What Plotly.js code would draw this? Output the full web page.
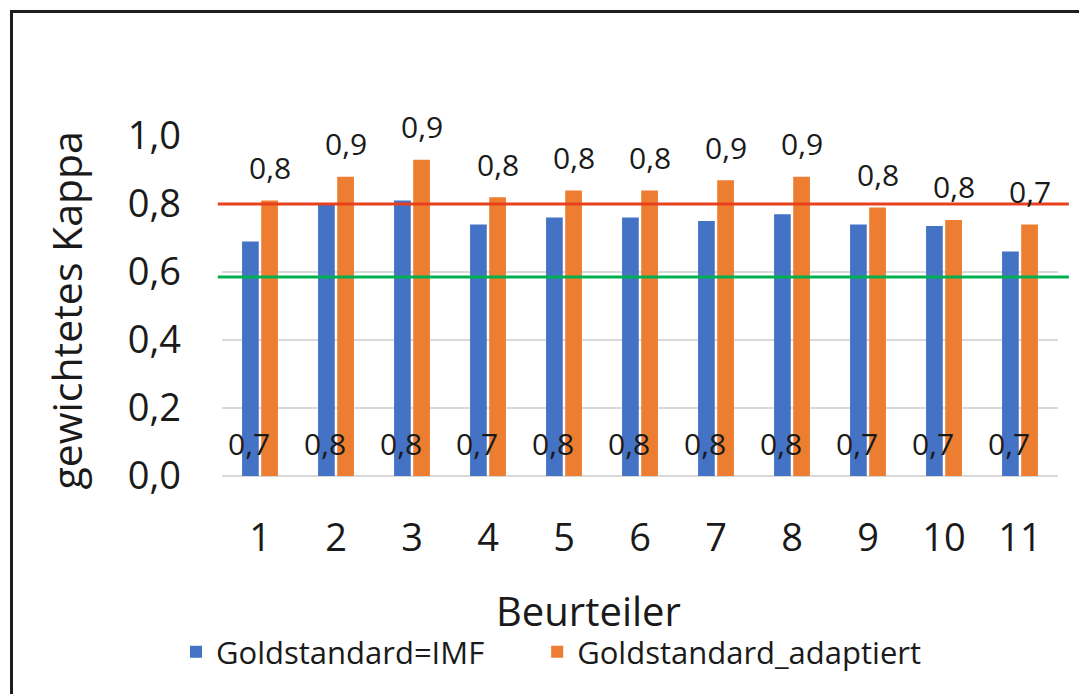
<!DOCTYPE html>
<html>
<head>
<meta charset="utf-8">
<script src="https://cdn.plot.ly/plotly-3.0.1.min.js"></script>
<style>
  html, body { margin: 0; padding: 0; background: #ffffff; }
  #wrap { position: relative; width: 1079px; height: 694px; overflow: hidden; }
  #chart { position: absolute; left: 0; top: 0; width: 1079px; height: 694px; }
  #frame { position: absolute; left: 10px; top: 10px; width: 1100px; height: 720px;
           border-left: 3px solid #1e1e1e; border-top: 3px solid #1e1e1e; pointer-events: none; }
</style>
</head>
<body>
<div id="wrap">
  <div id="chart"></div>
  <div id="frame"></div>
</div>
<script>
// ---- data ----
const categories = ["1", "2", "3", "4", "5", "6", "7", "8", "9", "10", "11"];
const imfValues     = [0.69, 0.80, 0.81, 0.74, 0.76, 0.76, 0.75, 0.77, 0.74, 0.735, 0.66];
const adaptedValues = [0.81, 0.88, 0.93, 0.82, 0.84, 0.84, 0.87, 0.88, 0.79, 0.753, 0.74];
const seriesNames = ["Goldstandard=IMF", "Goldstandard_adaptiert"];
const yTickValues = [0, 0.2, 0.4, 0.6, 0.8, 1.0];
const yTickLabels = ["0,0", "0,2", "0,4", "0,6", "0,8", "1,0"];
const thresholdHigh = 0.8;
const thresholdLow = 0.585;
const yTitle = "gewichtetes Kappa";
const xTitle = "Beurteiler";

const FONT = "Open Sans, Lato, sans-serif";
const BLUE = "#4472C4", ORANGE = "#ED7D31";

function fmt(v) { return v.toFixed(1).replace(".", ","); }

const traces = [
  { type: "bar", name: seriesNames[0], x: categories, y: imfValues,
    marker: { color: BLUE }, hoverinfo: "skip", legend: "legend" },
  { type: "bar", name: seriesNames[1], x: categories, y: adaptedValues,
    marker: { color: ORANGE }, hoverinfo: "skip", legend: "legend2" }
];

const annotations = [];
categories.forEach((c, i) => {
  // on a category axis a numeric x is the category index
  annotations.push({ x: i, y: 0, xref: "x", yref: "y", text: fmt(imfValues[i]),
    showarrow: false, xshift: -11, yshift: 33, yanchor: "middle",
    font: { family: FONT, size: 30, color: "#1a1a1a" } });
  annotations.push({ x: i, y: adaptedValues[i], xref: "x", yref: "y", text: fmt(adaptedValues[i]),
    showarrow: false, xshift: 10, yshift: 33, yanchor: "middle",
    font: { family: FONT, size: 30, color: "#1a1a1a" } });
});
annotations.push({ xref: "paper", yref: "paper", x: -0.186, y: 0.488, text: yTitle,
  textangle: -90, showarrow: false, xanchor: "center", yanchor: "middle",
  font: { family: FONT, size: 41, color: "#1a1a1a" } });
annotations.push({ xref: "paper", yref: "paper", x: 0.438, y: -0.397, text: xTitle,
  showarrow: false, xanchor: "center", yanchor: "middle",
  font: { family: FONT, size: 40, color: "#1a1a1a" } });

const legendFont = { family: FONT, size: 31, color: "#1a1a1a" };

const layout = {
  width: 1079, height: 694,
  margin: { l: 222, r: 21, t: 136, b: 218 },
  paper_bgcolor: "#ffffff", plot_bgcolor: "#ffffff",
  barmode: "group", bargap: 0.496, bargroupgap: 0.128,
  showlegend: true,
  legend: { orientation: "h", x: -0.055, xanchor: "left", y: -0.518, yanchor: "middle",
    font: legendFont, bgcolor: "rgba(0,0,0,0)" },
  legend2: { orientation: "h", x: 0.377, xanchor: "left", y: -0.518, yanchor: "middle",
    font: legendFont, bgcolor: "rgba(0,0,0,0)" },
  xaxis: { type: "category", range: [-0.5, categories.length - 0.5],
    showgrid: false, showline: false, zeroline: false,
    ticks: "", ticklabelstandoff: 36,
    tickfont: { family: FONT, size: 38, color: "#1a1a1a" } },
  yaxis: { range: [0, 1.0], tickvals: yTickValues, ticktext: yTickLabels,
    showgrid: true, gridcolor: "#D9D9D9", gridwidth: 2,
    zeroline: true, zerolinecolor: "#D9D9D9", zerolinewidth: 2,
    showline: false, ticks: "", ticklabelstandoff: 40,
    tickfont: { family: FONT, size: 38, color: "#1a1a1a" } },
  shapes: [
    { type: "line", xref: "paper", yref: "y", x0: -0.005, x1: 1.013,
      y0: thresholdHigh, y1: thresholdHigh, line: { color: "#E8401C", width: 3 } },
    { type: "line", xref: "paper", yref: "y", x0: -0.005, x1: 1.013,
      y0: thresholdLow, y1: thresholdLow, line: { color: "#00B050", width: 3 } }
  ],
  annotations: annotations
};

Plotly.newPlot("chart", traces, layout, { staticPlot: true, displayModeBar: false });
</script>
</body>
</html>
